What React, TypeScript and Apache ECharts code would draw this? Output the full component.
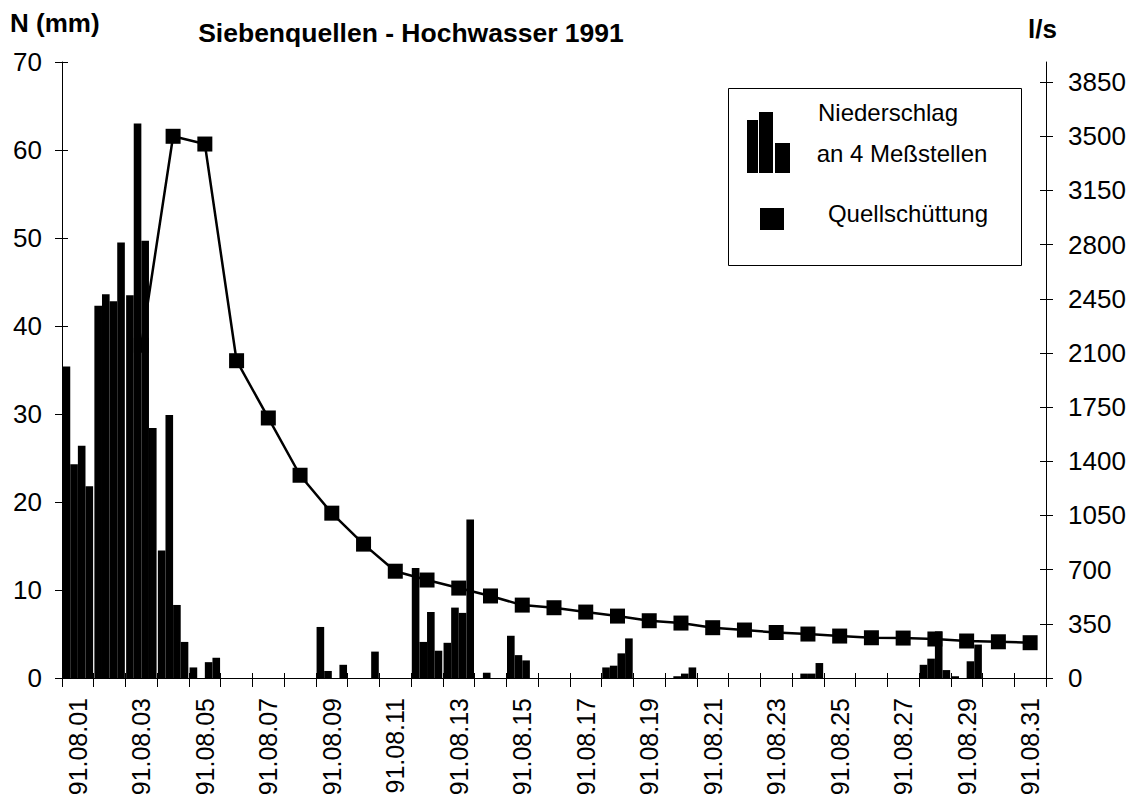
import { useEffect, useRef } from 'react';
import * as echarts from 'echarts';

const days = [
  '91.08.01', '91.08.02', '91.08.03', '91.08.04', '91.08.05', '91.08.06', '91.08.07', '91.08.08',
  '91.08.09', '91.08.10', '91.08.11', '91.08.12', '91.08.13', '91.08.14', '91.08.15', '91.08.16',
  '91.08.17', '91.08.18', '91.08.19', '91.08.20', '91.08.21', '91.08.22', '91.08.23', '91.08.24',
  '91.08.25', '91.08.26', '91.08.27', '91.08.28', '91.08.29', '91.08.30', '91.08.31',
];

// Niederschlag (mm) an 4 Meßstellen
const station1 = [35.4, 42.3, 43.5, 14.5, 1.2, 0, 0, 0, 5.8, 0, 0, 12.5, 4.0, 0, 4.8, 0, 0, 1.2, 0, 0, 0, 0, 0, 0, 0, 0, 0, 1.5, 0.2, 0, 0];
const station2 = [24.3, 43.6, 63.0, 29.9, 0, 0, 0, 0, 0.8, 0, 0, 4.1, 8.0, 0.6, 2.6, 0, 0, 1.4, 0, 0.2, 0, 0, 0, 0.5, 0, 0, 0, 2.2, 0, 0, 0];
const station3 = [26.4, 42.8, 49.7, 8.3, 1.8, 0, 0, 0, 0, 0, 0, 7.5, 7.4, 0, 2.0, 0, 0, 2.8, 0, 0.5, 0, 0, 0, 0.5, 0, 0, 0, 5.3, 1.9, 0, 0];
const station4 = [21.8, 49.5, 28.4, 4.1, 2.3, 0, 0, 0, 1.5, 3.0, 0, 3.1, 18.0, 0, 0, 0, 0, 4.5, 0, 1.2, 0, 0, 0, 1.7, 0, 0, 0, 0.9, 3.8, 0, 0];

// Quellschüttung (l/s)
const discharge = [null, null, 2150, 3500, 3450, 2050, 1680, 1310, 1065, 865, 690, 633, 581, 530, 471, 454, 426, 400, 370, 355, 325, 310, 294, 284, 271, 260, 258, 252, 239, 234, 228];

const leftTicks = [0, 10, 20, 30, 40, 50, 60, 70];
const rightTicks = [0, 350, 700, 1050, 1400, 1750, 2100, 2450, 2800, 3150, 3500, 3850];

const FONT = '"Liberation Sans", Arial, sans-serif';

export default function App() {
  const ref = useRef<HTMLDivElement>(null);

  useEffect(() => {
    if (!ref.current) return;
    const chart = echarts.init(ref.current, null, { renderer: 'svg' });

    const barSeries = [station1, station2, station3, station4].map((d, i) => ({
      name: 'Station ' + (i + 1),
      type: 'bar',
      data: d,
      xAxisIndex: 0,
      yAxisIndex: 0,
      barGap: '0%',
      barCategoryGap: '4%',
      itemStyle: { color: '#000' },
      z: 3,
      silent: true,
    }));

    const plain = (v: number) => String(v);

    const option: any = {
      animation: false,
      backgroundColor: '#fff',
      grid: { left: 62, right: 87, top: 62, bottom: 127, containLabel: false, outerBoundsMode: 'none' },
      xAxis: [
        {
          type: 'category',
          data: days,
          boundaryGap: true,
          axisLine: { show: true, lineStyle: { color: '#000', width: 1 } },
          axisTick: { show: true, interval: 0, length: 9, lineStyle: { color: '#000', width: 1 } },
          axisLabel: { interval: 1, rotate: 90, margin: 20, fontFamily: FONT, fontSize: 25, color: '#000' },
          splitLine: { show: false },
        },
        {
          type: 'category',
          data: days,
          position: 'bottom',
          boundaryGap: true,
          axisLine: { show: false },
          axisTick: { show: true, inside: true, interval: 0, length: 5, lineStyle: { color: '#000', width: 1 } },
          axisLabel: { show: false },
          splitLine: { show: false },
        },
      ],
      yAxis: [
        {
          type: 'value',
          position: 'left',
          min: 0,
          max: 70,
          interval: 10,
          axisLine: { show: true, lineStyle: { color: '#000', width: 1 } },
          axisTick: { show: true, length: 7, lineStyle: { color: '#000' }, customValues: leftTicks },
          axisLabel: { margin: 20, fontFamily: FONT, fontSize: 26, color: '#000', customValues: leftTicks, formatter: plain },
          splitLine: { show: false },
        },
        {
          type: 'value',
          position: 'right',
          min: 0,
          max: 3980,
          interval: 350,
          axisLine: { show: true, lineStyle: { color: '#000', width: 1 } },
          axisTick: { show: true, length: 7, lineStyle: { color: '#000' }, customValues: rightTicks },
          axisLabel: { margin: 22, fontFamily: FONT, fontSize: 26, color: '#000', customValues: rightTicks, formatter: plain },
          splitLine: { show: false },
        },
        {
          type: 'value',
          position: 'left',
          min: 0,
          max: 70,
          interval: 10,
          axisLine: { show: false },
          axisTick: { show: true, inside: true, length: 6, lineStyle: { color: '#000' }, customValues: leftTicks },
          axisLabel: { show: false },
          splitLine: { show: false },
        },
        {
          type: 'value',
          position: 'right',
          min: 0,
          max: 3980,
          interval: 350,
          axisLine: { show: false },
          axisTick: { show: true, inside: true, length: 6, lineStyle: { color: '#000' }, customValues: rightTicks },
          axisLabel: { show: false },
          splitLine: { show: false },
        },
      ],
      series: [
        ...barSeries,
        {
          name: 'Quellschüttung',
          type: 'line',
          data: discharge,
          xAxisIndex: 0,
          yAxisIndex: 1,
          symbol: 'rect',
          symbolSize: 15,
          showAllSymbol: true,
          connectNulls: false,
          lineStyle: { color: '#000', width: 2.5 },
          itemStyle: { color: '#000' },
          z: 2,
          silent: true,
        },
      ],
      graphic: [
        {
          type: 'text', left: 10, top: 10,
          style: { text: 'N (mm)', font: 'bold 26px ' + FONT, fill: '#000' },
        },
        {
          type: 'text', x: 411, y: 33,
          style: {
            text: 'Siebenquellen - Hochwasser 1991', font: 'bold 26.5px ' + FONT, fill: '#000',
            textAlign: 'center', textVerticalAlign: 'middle', align: 'center', verticalAlign: 'middle',
          },
        },
        {
          type: 'text', x: 1028, y: 29,
          style: {
            text: 'l/s', font: 'bold 26px ' + FONT, fill: '#000',
            textAlign: 'left', textVerticalAlign: 'middle', align: 'left', verticalAlign: 'middle',
          },
        },
        {
          type: 'group',
          children: [
            { type: 'rect', shape: { x: 728.5, y: 88.5, width: 293, height: 177 }, style: { fill: '#fff', stroke: '#000', lineWidth: 1 }, z: 100 },
            { type: 'rect', shape: { x: 747, y: 120, width: 11, height: 53 }, style: { fill: '#000' }, z: 101 },
            { type: 'rect', shape: { x: 759, y: 112, width: 14, height: 61 }, style: { fill: '#000' }, z: 101 },
            { type: 'rect', shape: { x: 775, y: 143, width: 15, height: 30 }, style: { fill: '#000' }, z: 101 },
            { type: 'rect', shape: { x: 760, y: 208, width: 24, height: 22 }, style: { fill: '#000' }, z: 101 },
            {
              type: 'text', x: 888, y: 112, z: 101,
              style: { text: 'Niederschlag', font: '24px ' + FONT, fill: '#000', textAlign: 'center', textVerticalAlign: 'middle', align: 'center', verticalAlign: 'middle' },
            },
            {
              type: 'text', x: 902, y: 153, z: 101,
              style: { text: 'an 4 Meßstellen', font: '24px ' + FONT, fill: '#000', textAlign: 'center', textVerticalAlign: 'middle', align: 'center', verticalAlign: 'middle' },
            },
            {
              type: 'text', x: 908, y: 213, z: 101,
              style: { text: 'Quellschüttung', font: '24px ' + FONT, fill: '#000', textAlign: 'center', textVerticalAlign: 'middle', align: 'center', verticalAlign: 'middle' },
            },
          ],
        },
      ],
    };

    chart.setOption(option);
    return () => chart.dispose();
  }, []);

  return <div ref={ref} style={{ position: 'absolute', left: 0, top: 0, width: 1133, height: 805 }} />;
}
